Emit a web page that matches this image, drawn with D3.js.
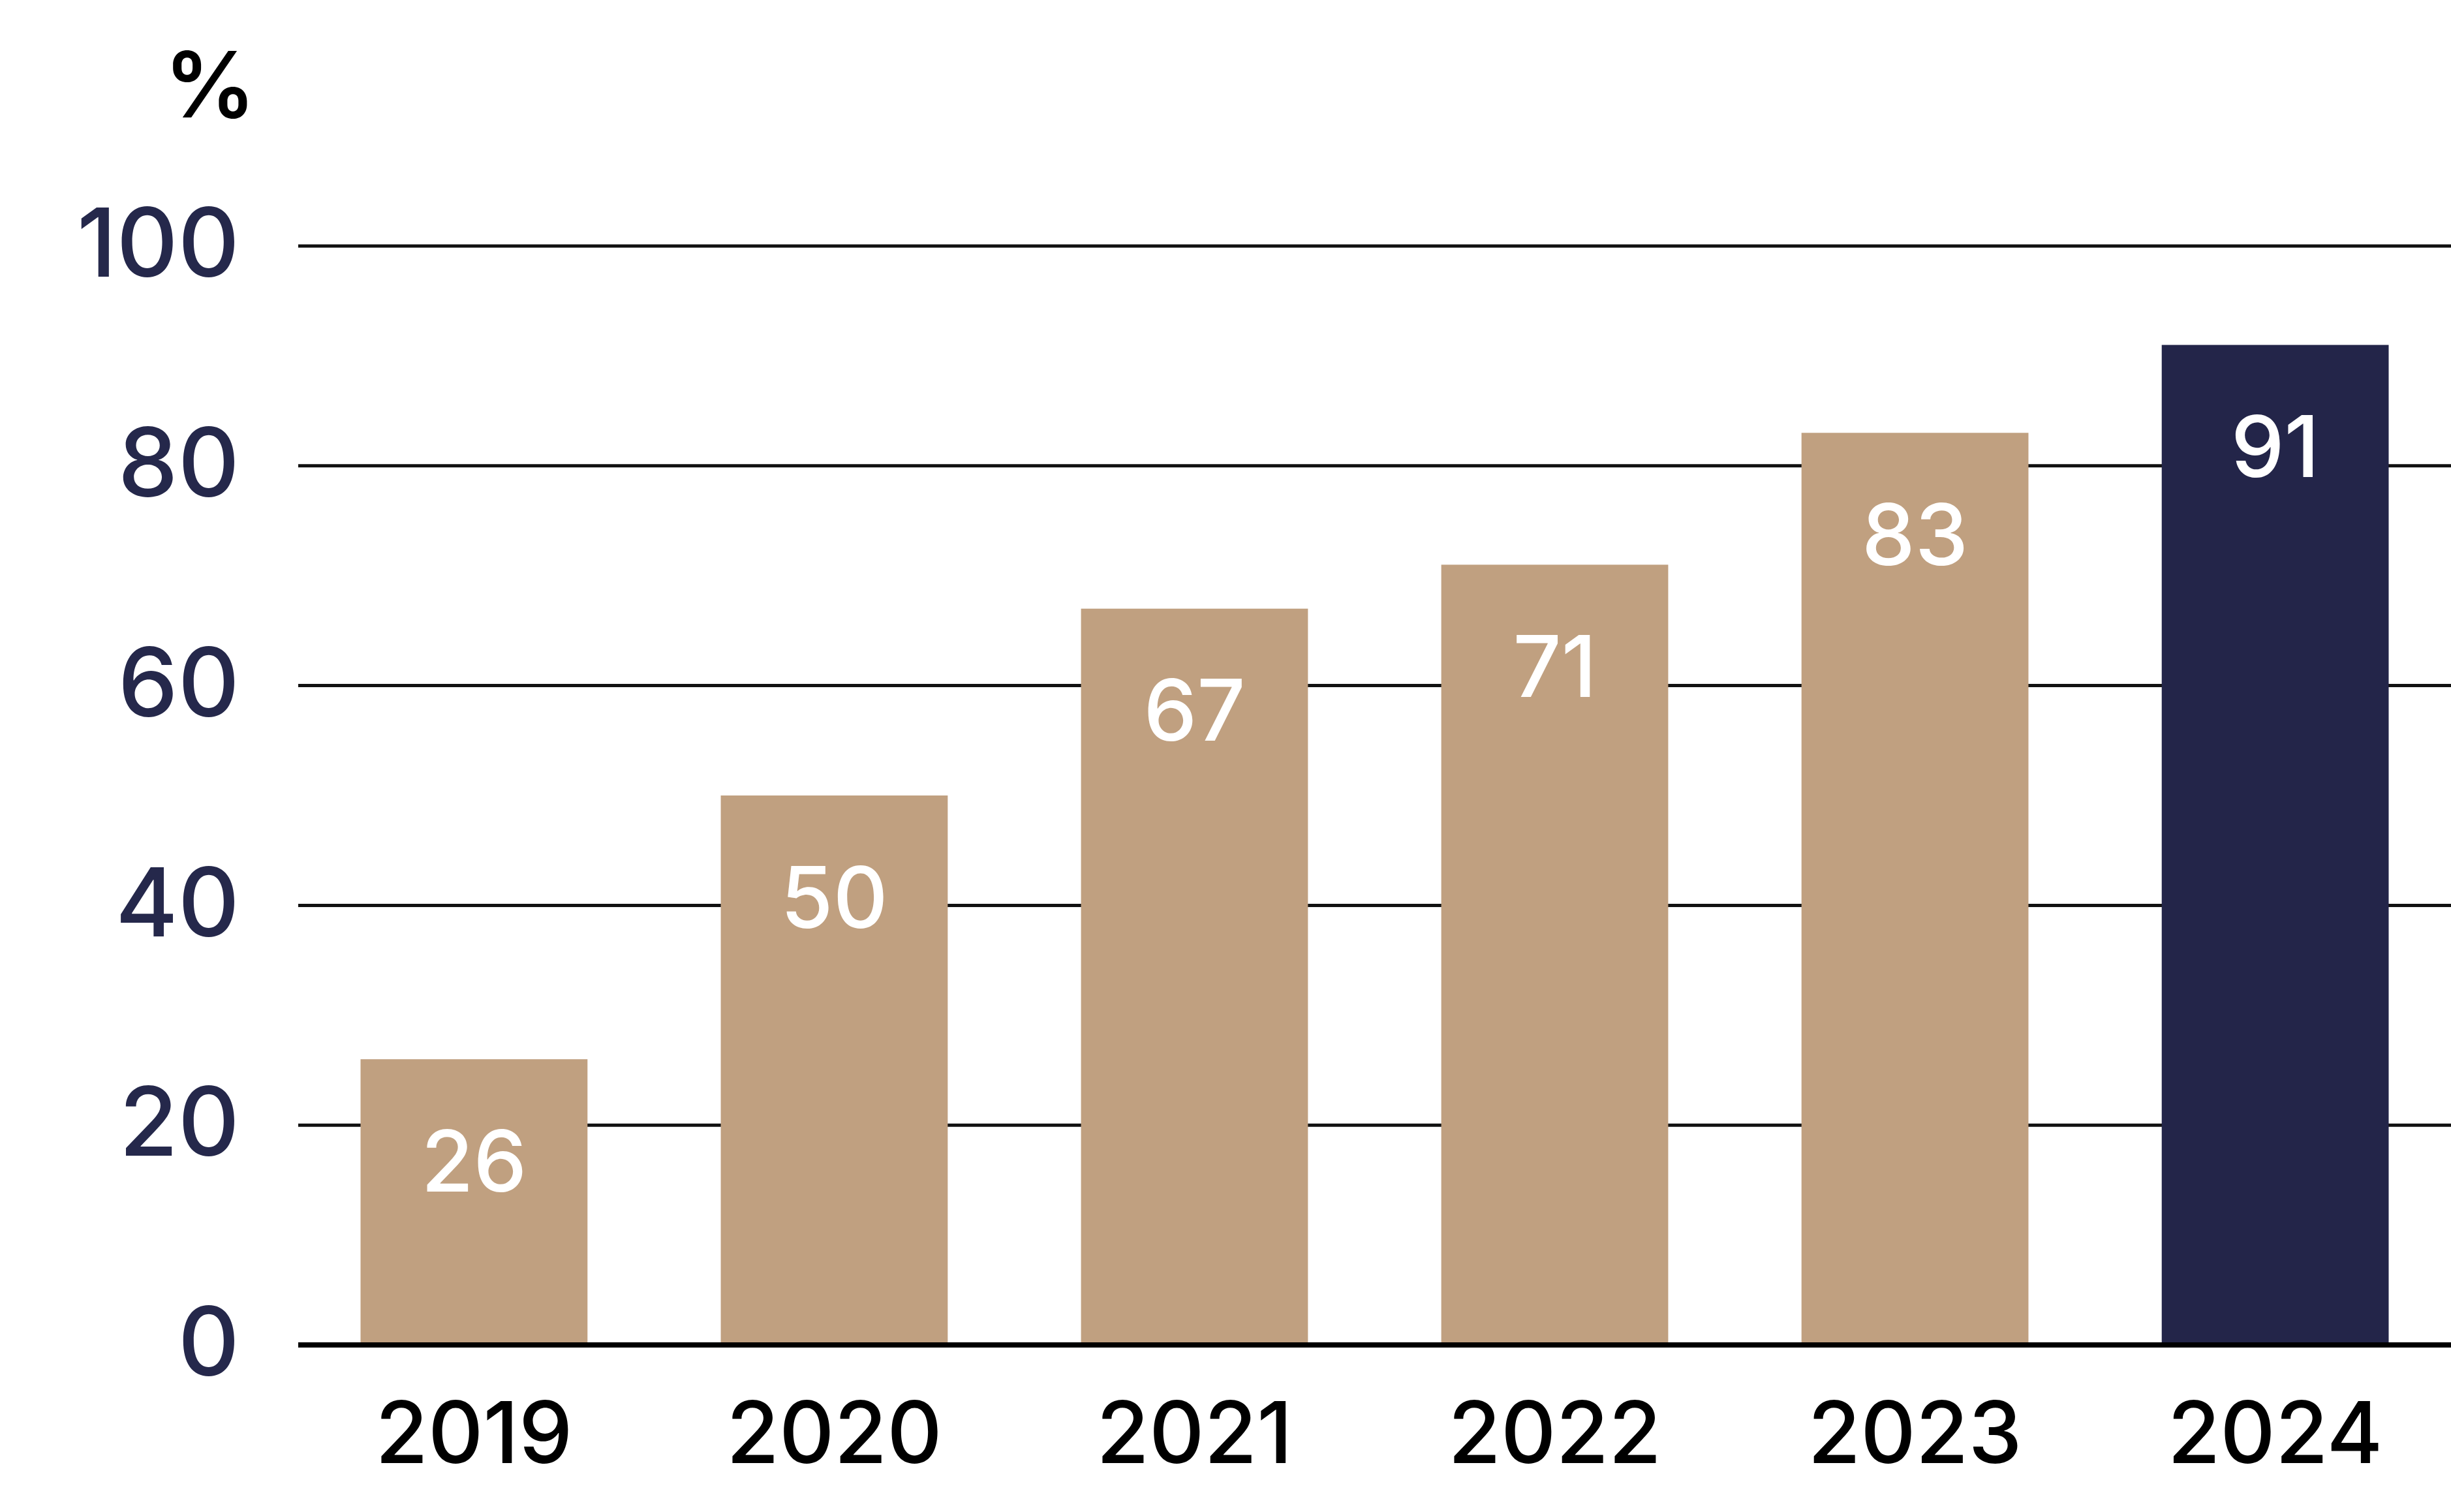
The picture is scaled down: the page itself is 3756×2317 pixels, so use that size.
<!DOCTYPE html>
<html>
<head>
<meta charset="utf-8">
<script src="https://cdn.jsdelivr.net/npm/d3@7"></script>
<style>
  html, body { margin: 0; padding: 0; background: #ffffff; }
  svg { display: block; }
  text { font-family: Inter, "Noto Sans", sans-serif; }
</style>
</head>
<body>
<svg id="chart" width="3756" height="2317"></svg>
<script>
const years = ["2019", "2020", "2021", "2022", "2023", "2024"];
const values = [26, 50, 67, 71, 83, 91];
const highlight = ["2024"];
const yTicks = [0, 20, 40, 60, 80, 100];
const unitLabel = "%";

const W = 3756, H = 2317;
const plotLeft = 457, plotRight = 3756, plotTop = 377, plotBottom = 2061;

const svg = d3.select("#chart");

const x = d3.scaleBand().domain(years).range([plotLeft, plotRight])
  .paddingInner(0.37).paddingOuter(0.173);
const y = d3.scaleLinear().domain([0, 100]).range([plotBottom, plotTop]);

// gridlines
svg.append("g").selectAll("line").data(yTicks.filter(d => d !== 0)).join("line")
  .attr("x1", plotLeft).attr("x2", W)
  .attr("y1", d => y(d)).attr("y2", d => y(d))
  .attr("stroke", "#111").attr("stroke-width", 5);

// bars
svg.append("g").selectAll("rect").data(years).join("rect")
  .attr("x", d => x(d))
  .attr("width", x.bandwidth())
  .attr("y", (d, i) => y(values[i]))
  .attr("height", (d, i) => y(0) - y(values[i]))
  .attr("fill", d => highlight.includes(d) ? "#232549" : "#C0A080");

// value labels
svg.append("g").selectAll("text").data(years).join("text")
  .attr("x", d => x(d) + x.bandwidth() / 2)
  .attr("y", (d, i) => y(values[i]) + 155)
  .attr("text-anchor", "middle")
  .attr("dominant-baseline", "central")
  .attr("fill", "#ffffff")
  .attr("font-size", 130)
  .attr("font-weight", 500)
  .text((d, i) => values[i]);

// baseline
svg.append("line")
  .attr("x1", plotLeft).attr("x2", W)
  .attr("y1", y(0)).attr("y2", y(0))
  .attr("stroke", "#000").attr("stroke-width", 8);

// y axis labels
const yAxis = d3.axisLeft(y).tickValues(yTicks).tickSize(0).tickPadding(90);
const gy = svg.append("g").attr("transform", `translate(${plotLeft},0)`).call(yAxis);
gy.select(".domain").remove();
gy.selectAll("text")
  .attr("font-size", 146)
  .attr("font-weight", 500)
  .attr("fill", "#25284B")
  .attr("font-family", "Inter, 'Noto Sans', sans-serif");

// x axis labels
const xAxis = d3.axisBottom(x).tickSize(0).tickPadding(88);
const gx = svg.append("g").attr("transform", `translate(0,${plotBottom})`).call(xAxis);
gx.select(".domain").remove();
gx.selectAll("text")
  .attr("font-size", 131)
  .attr("font-weight", 500)
  .attr("fill", "#000")
  .attr("font-family", "Inter, 'Noto Sans', sans-serif");

// unit label
svg.append("text")
  .attr("x", 392).attr("y", 180)
  .attr("text-anchor", "end")
  .attr("font-size", 140)
  .attr("font-weight", 600)
  .attr("fill", "#000")
  .text(unitLabel);
</script>
</body>
</html>
